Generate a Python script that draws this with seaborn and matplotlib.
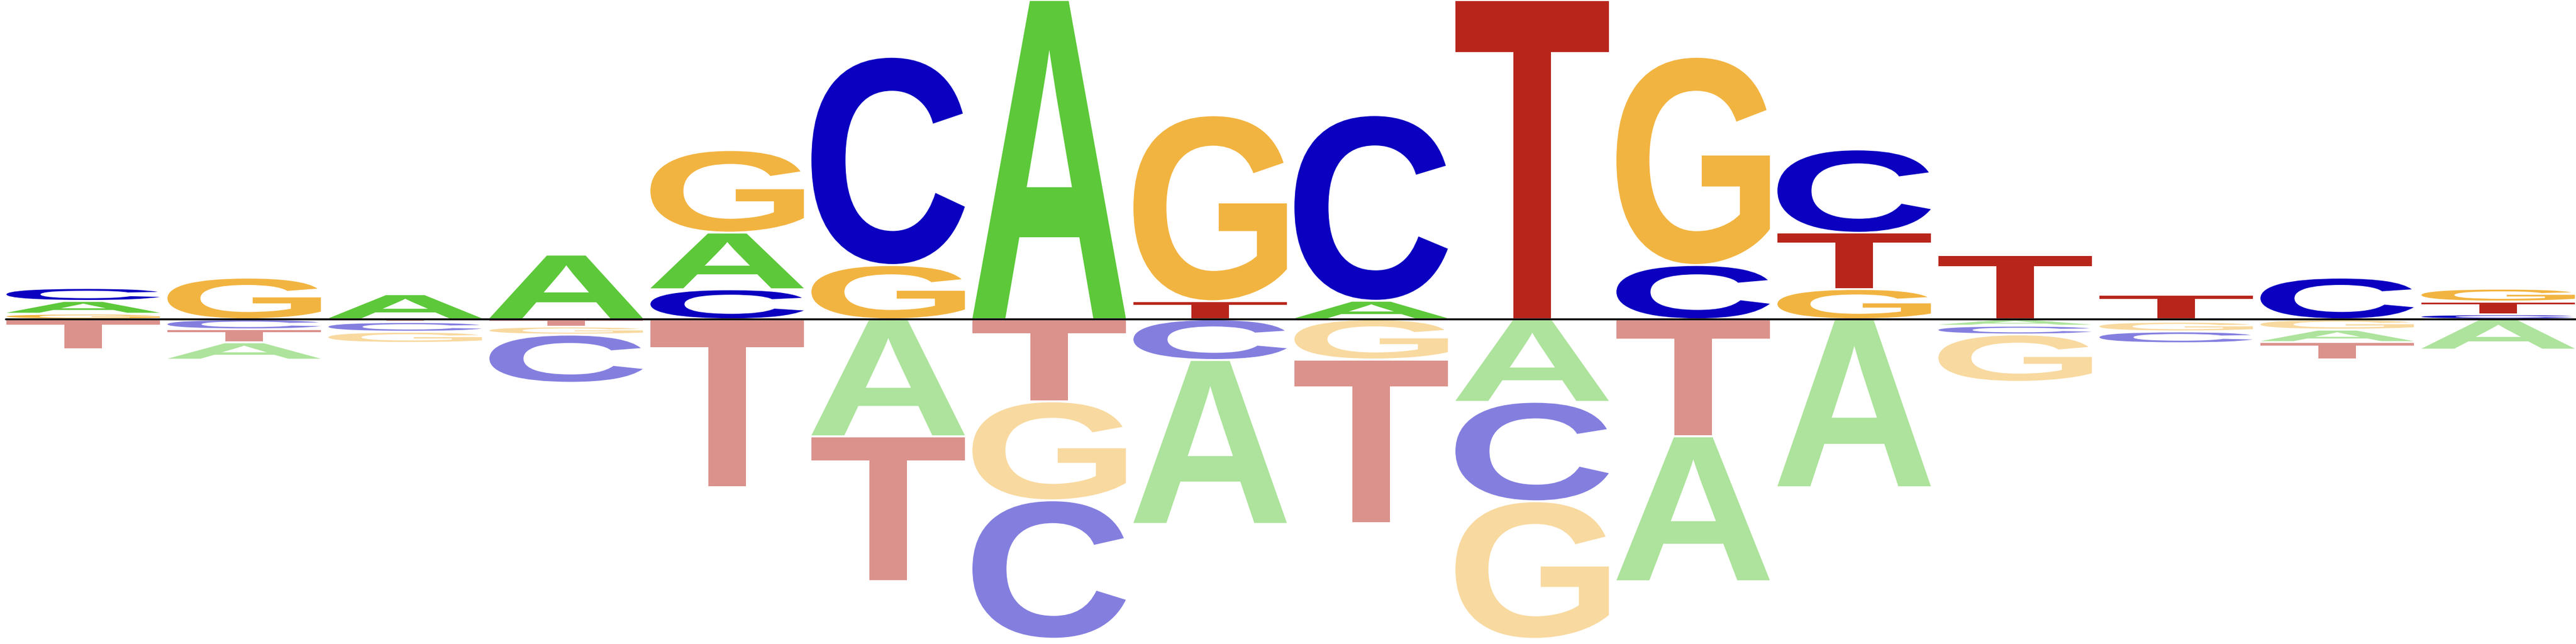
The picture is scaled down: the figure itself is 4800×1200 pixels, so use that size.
import matplotlib
matplotlib.use("Agg")
import matplotlib.pyplot as plt
import seaborn as sns
from matplotlib.textpath import TextPath
from matplotlib.patches import PathPatch
from matplotlib.font_manager import FontProperties
from matplotlib.transforms import Affine2D

sns.set_style("white")

bases = ["A", "C", "G", "T"]

# letter heights above the line (enriched), one value per position 1..16
up_A = [0.080, 0, 0.157, 0.405, 0.355, 0, 2.000, 0, 0.116, 0, 0, 0, 0, 0, 0, 0]
up_C = [0.081, 0, 0, 0, 0.188, 1.304, 0, 0, 1.163, 0, 0.340, 0.522, 0, 0, 0.261, 0.031]
up_G = [0.035, 0.261, 0, 0, 0.517, 0.340, 0, 1.165, 0, 0, 1.304, 0.190, 0, 0, 0, 0.081]
up_T = [0, 0, 0, 0, 0, 0, 0, 0.113, 0, 2.000, 0, 0.352, 0.403, 0.155, 0, 0.080]

# letter heights below the line (depleted)
down_A = [0, 0.109, 0, 0, 0, 0.733, 0, 1.027, 0, 0.517, 0.908, 1.052, 0.040, 0.015, 0.078, 0.190]
down_C = [0, 0.063, 0.061, 0.302, 0, 0, 0.867, 0.255, 0, 0.623, 0, 0, 0.055, 0.074, 0, 0]
down_G = [0, 0, 0.070, 0.051, 0, 0, 0.620, 0, 0.252, 0.862, 0, 0, 0.297, 0.061, 0.065, 0]
down_T = [0.187, 0.081, 0.017, 0.045, 1.052, 0.908, 0.514, 0, 1.024, 0, 0.733, 0, 0, 0, 0.109, 0]

up = {"A": up_A, "C": up_C, "G": up_G, "T": up_T}
down = {"A": down_A, "C": down_C, "G": down_G, "T": down_T}

colors = {"A": "#5dc83a", "C": "#0b00c0", "G": "#f2b441", "T": "#b8261b"}

font = FontProperties(family="Liberation Sans", weight="bold")
glyphs = {b: TextPath((0, 0), b, size=1, prop=font) for b in bases}


def draw_letter(ax, base, x0, y0, w, h, alpha):
    path = glyphs[base]
    ext = path.get_extents()
    tr = (Affine2D().translate(-ext.x0, -ext.y0)
          .scale(w / ext.width, h / ext.height).translate(x0, y0))
    ax.add_patch(PathPatch(tr.transform_path(path), facecolor=colors[base],
                           edgecolor="none", lw=0, alpha=alpha))


fig = plt.figure(figsize=(16, 4), dpi=300)
ax = fig.add_axes([0, 0, 1, 1])
ax.set_xlim(0, 16)
ax.set_ylim(-2.034, 2.0)
ax.axis("off")

pad = 0.006
width = 0.953
for i in range(16):
    x0 = i + 0.04
    # stack above: smallest next to the line
    y = 0
    for h, b in sorted((up[b][i], b) for b in bases if up[b][i] > 0):
        if h > 2 * pad:
            draw_letter(ax, b, x0, y + pad, width, h - 2 * pad, 1.0)
        y += h
    # stack below: smallest next to the line, lighter colours
    y = 0
    for h, b in sorted((down[b][i], b) for b in bases if down[b][i] > 0):
        if h > 2 * pad:
            draw_letter(ax, b, x0, y - h + pad, width, h - 2 * pad, 0.5)
        y -= h

ax.plot([0.037, 16], [0, 0], color="black", lw=0.85, zorder=5)

fig.savefig("out.png", dpi=300)
